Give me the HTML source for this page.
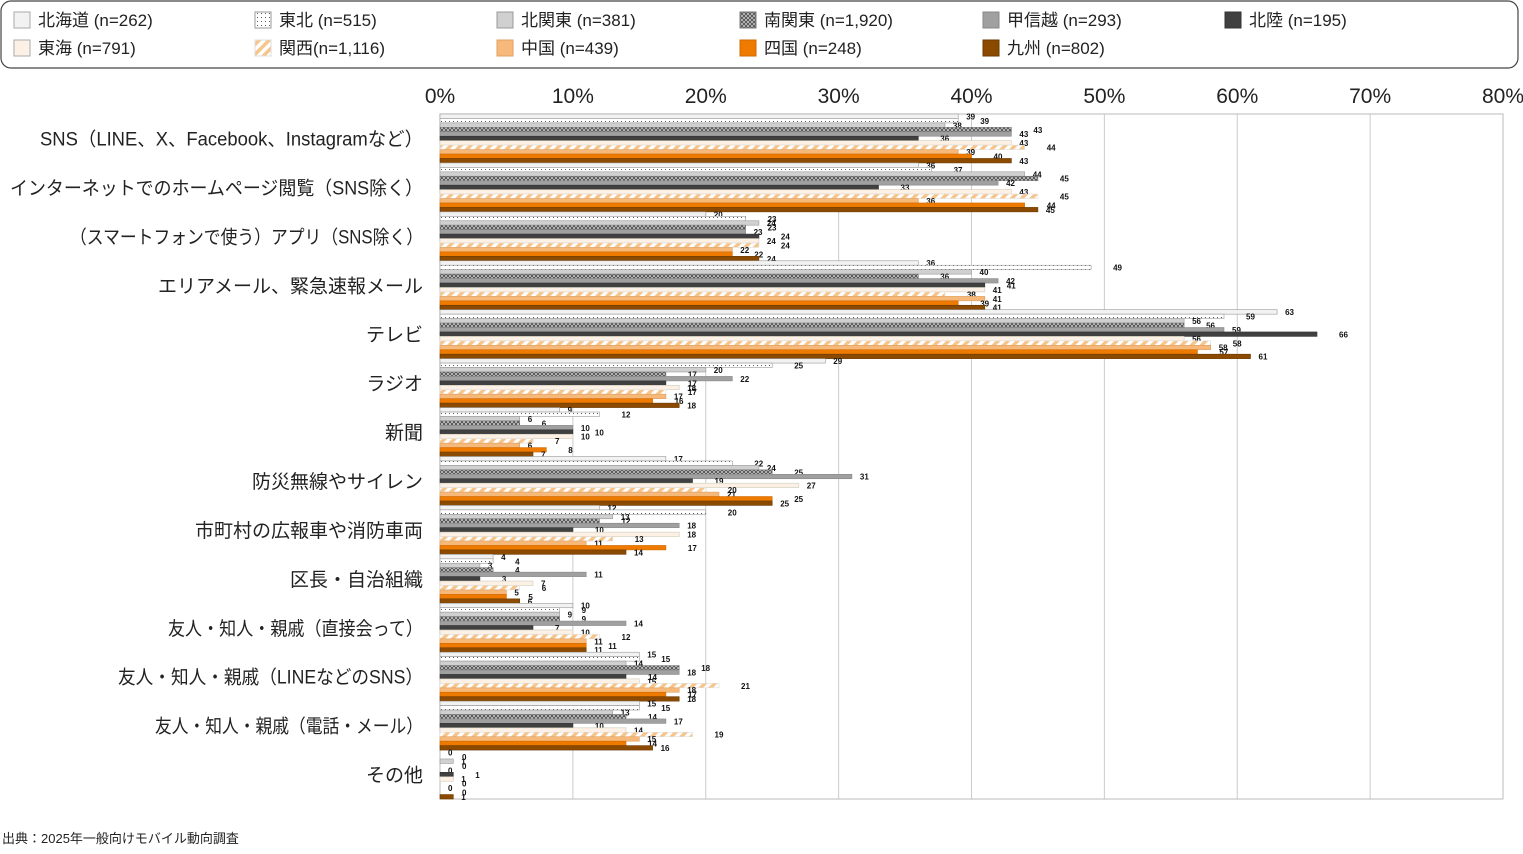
<!DOCTYPE html>
<html><head><meta charset="utf-8">
<style>
body{margin:0;background:#fff;width:1523px;height:849px;overflow:hidden;font-family:"Liberation Sans","Noto Sans CJK JP",sans-serif;}
</style></head><body>
<svg id="s" width="1523" height="849" xmlns="http://www.w3.org/2000/svg" font-family="Liberation Sans, Noto Sans CJK JP, sans-serif">
<defs>
<pattern id="dots" width="4" height="4" patternUnits="userSpaceOnUse"><rect width="4" height="4" fill="#fff"/><rect x="1" y="1" width="1" height="1" fill="#555"/></pattern>
<pattern id="cross" width="4" height="4" patternUnits="userSpaceOnUse"><rect width="4" height="4" fill="#d8d8d8"/><path d="M0,0L4,4M4,0L0,4" stroke="#555" stroke-width="1.1"/></pattern>
<pattern id="stripe" width="7" height="7" patternUnits="userSpaceOnUse" patternTransform="rotate(45)"><rect width="7" height="7" fill="#fff"/><rect width="3.5" height="7" fill="#f7c58a"/></pattern>
</defs>
<rect x="1" y="1" width="1517" height="67" rx="10" fill="#fff" stroke="#444" stroke-width="1.2"/>
<g id="g"></g>
<text x="2" y="843" font-size="13" fill="#222">出典：2025年一般向けモバイル動向調査</text>
</svg>
<script>
(function(){
try{
var NS="http://www.w3.org/2000/svg",G=document.getElementById("g");
function el(tag,attrs,txt){var e=document.createElementNS(NS,tag);for(var a in attrs)e.setAttribute(a,attrs[a]);if(txt!==undefined)e.textContent=txt;G.appendChild(e);return e;}
var S=[["北海道 (n=262)","#f2f2f2","#999"],["東北 (n=515)","url(#dots)","#999"],["北関東 (n=381)","#d0d0d0","#999"],["南関東 (n=1,920)","url(#cross)","#777"],["甲信越 (n=293)","#a0a0a0","#888"],["北陸 (n=195)","#404040","#333"],["東海 (n=791)","#fdf1e6","#ccb"],["関西(n=1,116)","url(#stripe)","#ddd"],["中国 (n=439)","#f6b97a","#e0a060"],["四国 (n=248)","#ee7a00","#d06a00"],["九州 (n=802)","#8b4a00","#6b3a00"]];
var C=["SNS（LINE、X、Facebook、Instagramなど）","インターネットでのホームページ閲覧（SNS除く）","（スマートフォンで使う）アプリ（SNS除く）","エリアメール、緊急速報メール","テレビ","ラジオ","新聞","防災無線やサイレン","市町村の広報車や消防車両","区長・自治組織","友人・知人・親戚（直接会って）","友人・知人・親戚（LINEなどのSNS）","友人・知人・親戚（電話・メール）","その他"];
var TL={0:383,1:413,2:353,10:255,11:305,12:268};
var D=[[39,39,38,43,43,36,43,44,39,40,43],[36,37,44,45,42,33,43,45,36,44,45],[20,23,24,23,23,24,24,24,22,22,24],[36,49,40,36,42,41,41,38,41,39,41],[63,59,56,56,59,66,56,58,58,57,61],[29,25,20,17,22,17,18,17,17,16,18],[9,12,6,6,10,10,10,7,6,8,7],[17,22,24,25,31,19,27,20,21,25,25],[12,20,13,12,18,10,18,13,11,17,14],[4,4,3,4,11,3,7,6,5,5,6],[10,9,9,9,14,7,10,12,11,11,11],[15,15,14,18,18,14,15,21,18,17,18],[15,15,13,14,17,10,14,19,15,14,16],[0,0,1,0,0,1,1,0,0,0,1]];
var x0=440,k=1063/80,T=114,B=799,P=(B-T)/14,bh=P/11;
var lx=[14,255,497,740,983,1225];
S.forEach(function(s,i){var r=i<6?0:1,c=i<6?i:i-6;var x=lx[c],y=r?40:12;
el("rect",{x:x,y:y,width:16,height:16,fill:s[1],stroke:(i==6||i==0?"#aaa":s[2])});
el("text",{x:x+24,y:y+14,"font-size":17,fill:"#222"},s[0]);});
for(var p=0;p<=8;p++){var gx=x0+p*10*k;el("line",{x1:gx,y1:T,x2:gx,y2:B,stroke:"#ccc"});
el("text",{x:gx,y:103,"font-size":21,"text-anchor":"middle",fill:"#222"},(p*10)+"%");}
el("rect",{x:x0,y:T,width:1063,height:B-T,fill:"none",stroke:"#bbb"});
D.forEach(function(row,gi){var gy=T+gi*P;
var at={x:423,y:gy+P/2+7,"font-size":19,"text-anchor":"end",fill:"#222"};
if(TL[gi]){at.textLength=TL[gi];at.lengthAdjust="spacingAndGlyphs";}
el("text",at,C[gi]);
row.forEach(function(v,i){var y=gy+i*bh,w=v*k,s=S[i];
if(w>0)el("rect",{x:x0,y:y.toFixed(2),width:w.toFixed(1),height:bh.toFixed(2),fill:s[1],stroke:s[2],"stroke-width":0.6});
el("text",{x:(x0+w+(i%2?22:8)).toFixed(1),y:(y+bh+1).toFixed(1),"font-size":8,"font-weight":"bold",fill:"#111"},String(v));});});
}catch(e){}
})();
</script>
</body></html>
